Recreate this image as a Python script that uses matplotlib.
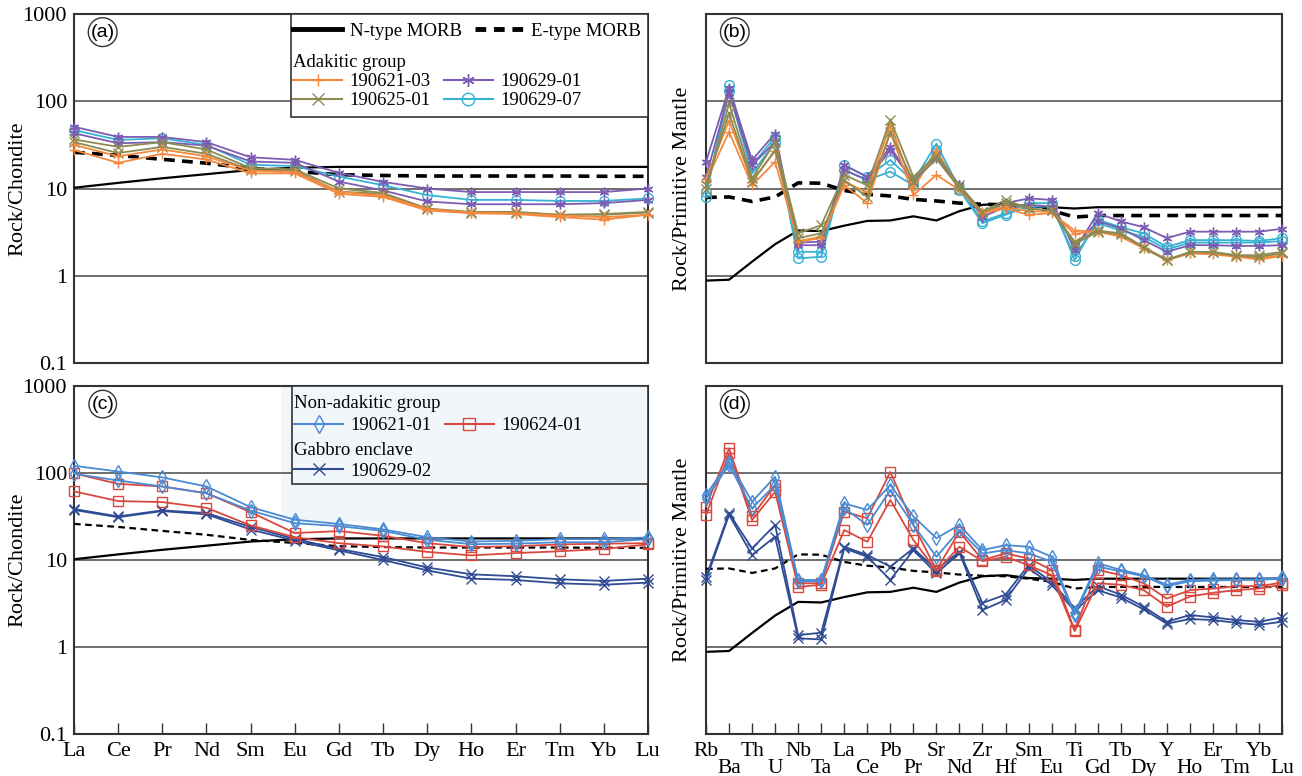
import numpy as np
import matplotlib.pyplot as plt
from matplotlib.lines import Line2D
from matplotlib.patches import Rectangle

plt.rcParams['font.family'] = ['Liberation Serif', 'DejaVu Serif']

ree = ['La', 'Ce', 'Pr', 'Nd', 'Sm', 'Eu', 'Gd', 'Tb', 'Dy', 'Ho', 'Er', 'Tm', 'Yb', 'Lu']
spider = ['Rb', 'Ba', 'Th', 'U', 'Nb', 'Ta', 'La', 'Ce', 'Pb', 'Pr', 'Sr', 'Nd', 'Zr',
          'Hf', 'Sm', 'Eu', 'Ti', 'Gd', 'Tb', 'Dy', 'Y', 'Ho', 'Er', 'Tm', 'Yb', 'Lu']

# reference curves
n_morb_ree = [10.2, 11.6, 13.1, 14.6, 16.3, 17.3, 17.7, 17.7, 17.7, 17.7, 17.7, 17.7, 17.7, 17.7]
e_morb_ree = [26.0, 24.0, 21.6, 19.5, 17.0, 15.7, 14.4, 14.1, 13.9, 13.9, 13.9, 13.9, 13.8, 13.8]
n_morb_pm = [0.88, 0.9, 1.45, 2.3, 3.3, 3.25, 3.75, 4.25, 4.3, 4.8, 4.3, 5.5, 6.5, 6.7,
             6.2, 6.1, 5.9, 6.1, 6.1, 6.1, 6.1, 6.1, 6.1, 6.1, 6.1, 6.1]
e_morb_pm = [7.9, 8.0, 7.1, 8.0, 11.6, 11.5, 9.5, 8.6, 8.2, 7.5, 7.2, 6.8, 6.6, 6.5,
             6.1, 5.6, 4.7, 4.9, 4.9, 4.9, 4.9, 4.9, 4.9, 4.9, 4.9, 4.9]

# adakitic group, chondrite normalised
ree_190621_03 = [[27.6, 19.7, 25.0, 21.5, 14.9, 14.9, 8.7, 8.0, 5.6, 5.2, 5.1, 4.7, 4.4, 5.0],
                 [31.6, 23.4, 28.0, 23.4, 16.0, 15.5, 9.2, 8.3, 5.8, 5.3, 5.2, 4.9, 4.7, 5.0]]
ree_190625_01 = [[36.5, 30.0, 34.0, 28.0, 17.1, 16.6, 10.0, 8.9, 5.9, 5.4, 5.4, 5.0, 5.1, 5.4],
                 [34.0, 25.5, 30.0, 25.0, 16.3, 16.0, 9.2, 8.7, 5.8, 5.3, 5.3, 5.0, 5.0, 5.3]]
ree_190629_01 = [[51.0, 39.0, 39.0, 34.0, 22.8, 21.3, 15.1, 11.9, 10.0, 9.1, 9.1, 9.1, 9.1, 10.0],
                 [43.0, 33.0, 34.0, 31.0, 20.4, 19.7, 12.0, 9.5, 7.1, 6.6, 6.6, 6.6, 6.8, 7.4]]
ree_190629_07 = [[46.7, 36.0, 37.6, 31.6, 18.7, 18.1, 13.7, 10.9, 8.4, 7.4, 7.4, 7.2, 7.2, 7.7]]

# adakitic group, primitive mantle normalised
pm_190621_03 = [[12.0, 44.6, 10.9, 20.2, 2.46, 2.7, 10.9, 6.8, 44.6, 8.4, 14.3, 9.6, 5.2, 5.9,
                 5.0, 5.2, 3.3, 3.2, 2.8, 2.06, 1.51, 1.80, 1.76, 1.65, 1.54, 1.68],
                [13.0, 60.0, 12.0, 27.0, 2.5, 2.8, 12.0, 9.0, 55.0, 10.0, 27.0, 10.0, 5.4, 6.2,
                 5.5, 5.4, 3.0, 3.3, 2.9, 2.1, 1.55, 1.82, 1.8, 1.7, 1.6, 1.7]]
pm_190625_01 = [[10.0, 95.0, 13.1, 34.3, 3.06, 3.8, 14.3, 10.9, 61.6, 13.6, 24.1, 10.9, 5.4, 7.4,
                 5.9, 5.6, 2.46, 3.3, 3.06, 2.14, 1.51, 1.88, 1.88, 1.72, 1.72, 1.88],
                [11.0, 72.7, 12.0, 27.6, 2.7, 3.06, 12.5, 8.0, 44.0, 12.0, 22.0, 10.0, 5.4, 6.8,
                 5.9, 5.6, 2.3, 3.2, 3.0, 2.1, 1.5, 1.85, 1.85, 1.7, 1.65, 1.8]]
pm_190629_01 = [[20.2, 141.0, 21.2, 42.6, 2.24, 2.24, 18.5, 13.6, 30.0, 12.0, 24.1, 10.9, 5.2, 6.8,
                 7.7, 7.4, 1.97, 5.2, 4.2, 3.6, 2.7, 3.2, 3.2, 3.2, 3.2, 3.45],
                [13.6, 123.0, 18.5, 34.3, 2.4, 2.46, 16.3, 12.5, 27.6, 12.0, 22.1, 10.9, 4.7, 6.2,
                 6.5, 6.2, 2.2, 4.2, 3.5, 2.56, 1.88, 2.24, 2.24, 2.2, 2.2, 2.24]]
pm_190629_07 = [[8.0, 153.0, 18.5, 39.0, 1.88, 1.88, 18.5, 13.6, 21.2, 12.0, 32.6, 10.0, 4.2, 5.2,
                 6.8, 6.8, 1.51, 4.4, 3.6, 3.06, 2.14, 2.56, 2.56, 2.56, 2.5, 2.7],
                [9.0, 130.0, 14.9, 34.0, 1.58, 1.65, 16.3, 12.5, 15.6, 10.9, 27.6, 9.6, 4.0, 5.0,
                 6.2, 6.2, 1.7, 4.0, 3.3, 2.8, 2.0, 2.4, 2.4, 2.4, 2.4, 2.5]]

# non-adakitic group and gabbro enclave, chondrite normalised
ree_190621_01 = [[121, 104, 89, 70, 40.5, 29, 26, 22.5, 18.3, 16.3, 16.6, 17.4, 17.4, 18.2],
                 [98, 82, 70, 58.5, 37, 26.5, 24.5, 21.6, 17.1, 15.2, 15.4, 16, 16, 17.4]]
ree_190624_01 = [[99, 75, 70, 58.5, 35.5, 20.4, 21.5, 19, 15.6, 14.1, 14.4, 15.1, 15.4, 15.6],
                 [61.5, 47.6, 46.3, 39.8, 25, 18.3, 15.6, 14.3, 12.4, 11.3, 12.0, 12.6, 13.4, 15.1]]
ree_190629_02 = [[38.6, 31.7, 37.2, 34.6, 24, 17.5, 13.4, 10.8, 8.2, 6.85, 6.5, 6.0, 5.75, 6.1],
                 [37.6, 31, 36.5, 33.5, 22.4, 16.7, 12.9, 10.0, 7.6, 6.1, 5.9, 5.4, 5.2, 5.5]]

# non-adakitic group and gabbro enclave, primitive mantle normalised
pm_190621_01 = [[55.8, 135, 46.8, 90.6, 5.9, 5.9, 44.7, 37.6, 72.8, 31.7, 17.8, 25.3, 13.0, 14.8,
                 14.2, 10.9, 2.44, 9.2, 7.7, 6.7, 5.2, 5.9, 6.0, 6.0, 6.0, 6.3],
                [51, 124, 39.3, 72.8, 5.7, 5.7, 39.3, 25.3, 63.6, 25.3, 10.9, 22.1, 11.9, 13.0,
                 11.9, 9.6, 2.35, 8.4, 7.4, 6.5, 5.0, 5.7, 5.8, 5.9, 5.9, 6.1]]
pm_190624_01 = [[41, 192, 31.7, 72.8, 5.4, 5.4, 36, 30.2, 103, 25.3, 7.7, 21.1, 10.0, 11.9,
                 10.4, 7.7, 1.57, 7.7, 6.7, 5.4, 3.6, 4.5, 4.7, 5.0, 5.0, 5.5],
                [32.9, 168, 28.8, 61, 4.9, 5.2, 22.1, 16.2, 49, 17.0, 7.5, 14.2, 9.7, 10.9,
                 8.7, 6.7, 1.52, 5.4, 5.2, 4.5, 2.9, 3.8, 4.2, 4.5, 4.7, 5.2]]
pm_190629_02 = [[6.4, 34.4, 13.6, 25.3, 1.37, 1.46, 14.2, 11.4, 8.4, 13.6, 7.7, 12.5, 3.2, 4.0,
                 8.7, 5.6, 2.8, 5.0, 4.0, 2.9, 1.95, 2.33, 2.19, 2.04, 1.95, 2.19],
                [5.9, 33, 11.4, 18.6, 1.26, 1.22, 13.6, 10.9, 5.9, 13.0, 7.0, 12.0, 2.66, 3.47,
                 8.0, 5.2, 2.6, 4.5, 3.7, 2.7, 1.85, 2.1, 2.04, 1.9, 1.8, 1.95]]

styles = {
    '190621-03': dict(color='#f5883c', marker='+'),
    '190625-01': dict(color='#8d8a52', marker='x'),
    '190629-01': dict(color='#7c5cb3', marker=(6, 2, 0)),
    '190629-07': dict(color='#37b2d4', marker='o', mfc='none'),
    '190621-01': dict(color='#4a8bd3', marker='d', mfc='none'),
    '190624-01': dict(color='#d9483f', marker='s', mfc='none'),
    '190629-02': dict(color='#2e4b94', marker='x'),
}

W, H = 1302, 776
fig = plt.figure(figsize=(W / 100, H / 100), dpi=100)


def box(l, t, r, b):
    return [l / W, 1 - b / H, (r - l) / W, (b - t) / H]


ax_a = fig.add_axes(box(74, 14, 648, 363))
ax_b = fig.add_axes(box(706, 14, 1282, 363))
ax_c = fig.add_axes(box(74, 386, 648, 734))
ax_d = fig.add_axes(box(706, 386, 1282, 734))


def setup(ax, names, ylabel, tag, ylabels=True, xlabels=False, stagger=False):
    ax.set_yscale('log')
    ax.set_ylim(0.1, 1000)
    ax.set_xlim(0, len(names) - 1)
    for s in ax.spines.values():
        s.set_linewidth(1.5)
        s.set_color('#333333')
    for v in (1, 10, 100):
        ax.axhline(v, color='#555555', lw=1.2, zorder=1)
    ax.minorticks_off()
    ticks = [0.1, 1, 10, 100, 1000]
    ax.set_yticks(ticks, labels=['0.1', '1', '10', '100', '1000'] if ylabels else [''] * 5)
    ax.tick_params(axis='y', length=0, labelsize=16, pad=5)
    if xlabels:
        ax.set_xticks(np.arange(len(names)), labels=names)
        ax.tick_params(axis='x', direction='in', length=8, width=1, color='#333333',
                       labelsize=15.5 if stagger else 16, pad=6)
        if stagger:
            for i, t in enumerate(ax.xaxis.get_major_ticks()):
                if i % 2:
                    t.set_pad(18)
    else:
        ax.set_xticks([])
    ax.set_ylabel(ylabel, fontsize=16)
    ax.yaxis.set_label_coords(-0.082 if ylabels else -0.024, 0.5)
    ax.text(0.05, 0.948, tag, transform=ax.transAxes, fontsize=14,
            family='Liberation Sans', ha='center', va='center', zorder=10,
            bbox=dict(boxstyle='circle,pad=0.12', fc='white', ec='#333333', lw=1))


def draw_morb(ax, n_vals, e_vals, lw_e):
    x = np.arange(len(n_vals))
    ax.plot(x, n_vals, color='black', lw=1.6, zorder=3)
    ax.plot(x, e_vals, color='black', lw=lw_e, ls=(0, (3, 2)), zorder=3)


def draw_samples(ax, groups):
    for name, lines in groups:
        st = styles[name]
        for vals in lines:
            ax.plot(np.arange(len(vals)), vals, lw=1.3, ms=7, mew=1, clip_on=False,
                    zorder=4, **st)


def handle(name):
    return Line2D([], [], lw=1.5, ms=9, mew=1, **styles[name])


setup(ax_a, ree, 'Rock/Chondite', '(a)')
setup(ax_b, spider, 'Rock/Primitive Mantle', '(b)', ylabels=False)
setup(ax_c, ree, 'Rock/Chondite', '(c)', xlabels=True)
setup(ax_d, spider, 'Rock/Primitive Mantle', '(d)', ylabels=False, xlabels=True, stagger=True)

draw_morb(ax_a, n_morb_ree, e_morb_ree, 2.6)
draw_morb(ax_b, n_morb_pm, e_morb_pm, 2.6)
draw_morb(ax_c, n_morb_ree, e_morb_ree, 1.6)
draw_morb(ax_d, n_morb_pm, e_morb_pm, 1.6)

draw_samples(ax_a, [('190629-07', ree_190629_07), ('190629-01', ree_190629_01),
                    ('190625-01', ree_190625_01), ('190621-03', ree_190621_03)])
draw_samples(ax_b, [('190629-07', pm_190629_07), ('190629-01', pm_190629_01),
                    ('190621-03', pm_190621_03), ('190625-01', pm_190625_01)])
draw_samples(ax_c, [('190629-02', ree_190629_02), ('190624-01', ree_190624_01),
                    ('190621-01', ree_190621_01)])
draw_samples(ax_d, [('190629-02', pm_190629_02), ('190624-01', pm_190624_01),
                    ('190621-01', pm_190621_01)])

# legend of panel (a)
leg_kw = dict(frameon=False, fontsize=13.5, title_fontsize=13.5, handlelength=2.6,
              handletextpad=0.4, columnspacing=0.7, borderpad=0, borderaxespad=0,
              loc='upper left')
ax_a.add_patch(Rectangle((0.378, 0.705), 0.622, 0.295, transform=ax_a.transAxes,
                         fc='white', ec='#333333', lw=1.2, zorder=6))
leg1 = ax_a.legend([Line2D([], [], color='k', lw=3.5),
                    Line2D([], [], color='k', lw=3.5, ls=(0, (2.2, 1.6)))],
                   ['N-type MORB', 'E-type MORB'], ncol=2, labelspacing=0.05,
                   bbox_to_anchor=(0.382, 0.975), **leg_kw)
leg1.set_zorder(7)
ax_a.add_artist(leg1)
names_a = ['190621-03', '190625-01', '190629-01', '190629-07']
leg2 = ax_a.legend([handle(n) for n in names_a], names_a, ncol=2, title='Adakitic group',
                   alignment='left', labelspacing=0.1, bbox_to_anchor=(0.382, 0.885), **leg_kw)
leg2.set_zorder(7)

# legend of panel (c)
ax_c.add_patch(Rectangle((0.36, 0.61), 0.64, 0.39, transform=ax_c.transAxes,
                         fc='#f1f6fb', ec='none', zorder=0.5))
ax_c.add_patch(Rectangle((0.38, 0.718), 0.62, 0.282, transform=ax_c.transAxes,
                         fc='#f1f6fb', ec='#333333', lw=1.2, zorder=6))
names_c = ['190621-01', '190624-01']
leg3 = ax_c.legend([handle(n) for n in names_c], names_c, ncol=2, title='Non-adakitic group',
                   alignment='left', labelspacing=0.3, bbox_to_anchor=(0.384, 0.975), **leg_kw)
leg3.set_zorder(7)
ax_c.add_artist(leg3)
leg4 = ax_c.legend([handle('190629-02')], ['190629-02'], title='Gabbro enclave',
                   alignment='left', labelspacing=0.2, bbox_to_anchor=(0.384, 0.84), **leg_kw)
leg4.set_zorder(7)

fig.savefig('out.png', dpi=100)
